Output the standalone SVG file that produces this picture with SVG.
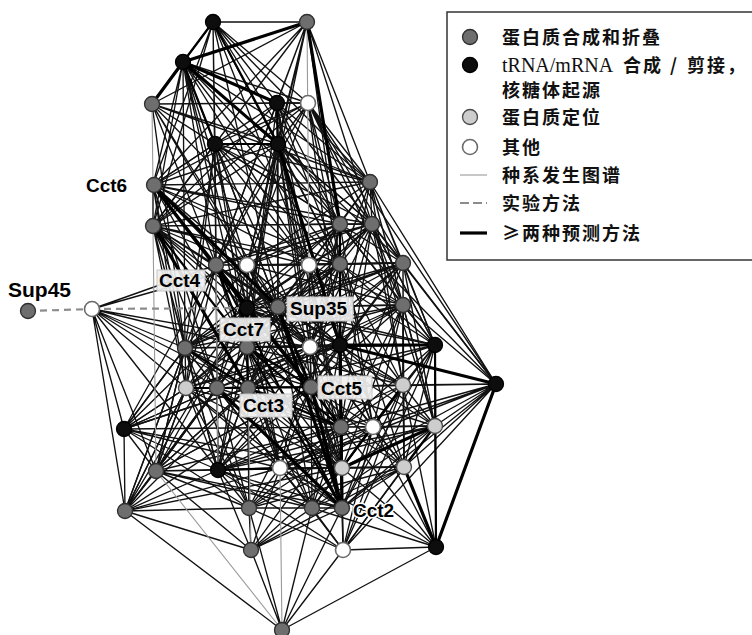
<svg xmlns="http://www.w3.org/2000/svg" width="752" height="635" viewBox="0 0 752 635">
<style>
.t{fill:none;stroke:#111;stroke-width:1.35}
.g{fill:none;stroke:#9a9a9a;stroke-width:1.1}
.m{fill:none;stroke:#000;stroke-width:2.2}
.k{fill:none;stroke:#000;stroke-width:3.2}
.d{fill:none;stroke:#8c8c8c;stroke-width:2.2;stroke-dasharray:7 5}
.ng circle{fill:#6e6e6e;stroke:#2e2e2e;stroke-width:1.3}
.nb circle{fill:#0d0d0d;stroke:#000;stroke-width:1.3}
.nl circle{fill:#cdcdcd;stroke:#4a4a4a;stroke-width:1.3}
.nw circle{fill:#fff;stroke:#6a6a6a;stroke-width:1.6}
.lb{font-family:"Liberation Sans",Arial,sans-serif;font-weight:bold;font-size:19px;fill:#000}
.hl{stroke:#fff;stroke-width:3px;paint-order:stroke;stroke-linejoin:round}
.bx{fill:#efefef;fill-opacity:0.92;stroke:#c4c4c4;stroke-width:1}
.lg{font-family:"Noto Sans CJK SC","Noto Sans",sans-serif;font-weight:bold;font-size:18px;letter-spacing:2px;fill:#111}
.lr{font-family:"Liberation Serif","Times New Roman",serif;font-weight:normal;font-size:20px;letter-spacing:0}
</style>
<rect width="752" height="635" fill="#fff"/>
<g id="connectors">
<path class="t" d="M213 22L307 22M213 22L152 104M213 22L277 103M213 22L308 103M213 22L215 144M213 22L153 185M213 22L370 182M213 22L153 226M213 22L340 224M213 22L216 265M213 22L309 265M213 22L340 264M213 22L278 307"/>
<path class="t" d="M307 22L277 103M307 22L215 144M307 22L278 144M307 22L152 104M307 22L153 185M307 22L370 182M307 22L153 226M307 22L372 224M307 22L216 265M307 22L247 265M307 22L340 264M307 22L247 308"/>
<path class="t" d="M183 62L308 103M183 62L153 185M183 62L370 182M183 62L153 226M183 62L340 224M183 62L372 224M183 62L216 265M183 62L247 265M183 62L309 265M183 62L340 264M183 62L247 308M183 62L278 307M183 62L185 348M183 62L247 347"/>
<path class="t" d="M152 104L277 103M152 104L308 103M152 104L215 144M152 104L278 144M152 104L370 182M152 104L340 224M152 104L216 265M152 104L247 265M152 104L309 265M152 104L278 307M152 104L185 348"/>
<path class="t" d="M277 103L308 103M277 103L215 144M277 103L153 185M277 103L153 226M277 103L370 182M277 103L340 224M277 103L372 224M277 103L216 265M277 103L309 265M277 103L340 264M277 103L403 263M277 103L278 307M277 103L247 347M277 103L310 347"/>
<path class="t" d="M308 103L215 144M308 103L278 144M308 103L153 185M308 103L370 182M308 103L153 226M308 103L340 224M308 103L372 224M308 103L216 265M308 103L247 265M308 103L340 264M308 103L403 263M308 103L403 305M308 103L435 345M308 103L496 384M308 103L340 345"/>
<path class="t" d="M215 144L153 185M215 144L153 226M215 144L370 182M215 144L340 224M215 144L372 224M215 144L216 265M215 144L309 265M215 144L340 264M215 144L247 308M215 144L278 307M215 144L185 348M215 144L247 347M215 144L310 347M215 144L186 388"/>
<path class="t" d="M278 144L153 185M278 144L370 182M278 144L153 226M278 144L340 224M278 144L372 224M278 144L216 265M278 144L247 265M278 144L309 265M278 144L340 264M278 144L403 263M278 144L247 308M278 144L278 307M278 144L403 305M278 144L247 347M278 144L310 347M278 144L341 427M278 144L311 387"/>
<path class="t" d="M153 185L370 182M153 185L153 226M153 185L340 224M153 185L372 224M153 185L247 265M153 185L309 265M153 185L340 264M153 185L185 348M153 185L247 347M153 185L310 347M153 185L340 345M153 185L186 388M153 185L217 388M153 185L341 427"/>
<path class="t" d="M370 182L153 226M370 182L340 224M370 182L372 224M370 182L247 265M370 182L309 265M370 182L340 264M370 182L403 263M370 182L403 305M370 182L310 347M370 182L340 345M370 182L435 345M370 182L496 384M370 182L435 426M370 182L403 385"/>
<path class="t" d="M153 226L340 224M153 226L372 224M153 226L216 265M153 226L247 265M153 226L309 265M153 226L340 264M153 226L247 308M153 226L278 307M153 226L185 348M153 226L310 347M153 226L340 345M153 226L186 388M153 226L217 388M153 226L311 387M153 226L218 470"/>
<path class="t" d="M340 224L372 224M340 224L216 265M340 224L247 265M340 224L309 265M340 224L403 263M340 224L247 308M340 224L278 307M340 224L403 305M340 224L185 348M340 224L247 347M340 224L310 347M340 224L435 345M340 224L496 384M340 224L248 388M340 224L311 387M340 224L341 427M340 224L373 427"/>
<path class="t" d="M372 224L216 265M372 224L247 265M372 224L309 265M372 224L340 264M372 224L403 263M372 224L247 308M372 224L278 307M372 224L403 305M372 224L247 347M372 224L310 347M372 224L340 345M372 224L435 345M372 224L496 384M372 224L403 385M372 224L435 426M372 224L341 427"/>
<path class="t" d="M216 265L247 265M216 265L309 265M216 265L340 264M216 265L403 263M216 265L278 307M216 265L185 348M216 265L310 347M216 265L340 345M216 265L186 388M216 265L217 388M216 265L341 427M216 265L218 470M216 265L280 468"/>
<path class="t" d="M247 265L309 265M247 265L340 264M247 265L403 263M247 265L247 308M247 265L278 307M247 265L403 305M247 265L185 348M247 265L247 347M247 265L310 347M247 265L340 345M247 265L217 388M247 265L248 388M247 265L311 387M247 265L341 427M247 265L280 468M247 265L342 468"/>
<path class="t" d="M309 265L340 264M309 265L403 263M309 265L247 308M309 265L278 307M309 265L403 305M309 265L185 348M309 265L247 347M309 265L310 347M309 265L340 345M309 265L435 345M309 265L217 388M309 265L248 388M309 265L311 387M309 265L403 385M309 265L341 427M309 265L373 427M309 265L342 468"/>
<path class="t" d="M340 264L403 263M340 264L247 308M340 264L278 307M340 264L403 305M340 264L185 348M340 264L247 347M340 264L310 347M340 264L435 345M340 264L186 388M340 264L248 388M340 264L311 387M340 264L403 385M340 264L341 427M340 264L373 427M340 264L342 468M340 264L404 467"/>
<path class="t" d="M403 263L247 308M403 263L278 307M403 263L403 305M403 263L185 348M403 263L247 347M403 263L310 347M403 263L340 345M403 263L435 345M403 263L496 384M403 263L248 388M403 263L311 387M403 263L403 385M403 263L341 427M403 263L435 426M403 263L404 467"/>
<path class="t" d="M247 308L278 307M247 308L403 305M247 308L185 348M247 308L310 347M247 308L340 345M247 308L435 345M247 308L186 388M247 308L217 388M247 308L403 385M247 308L124 429M247 308L341 427M247 308L156 471M247 308L218 470M247 308L280 468M247 308L342 468"/>
<path class="t" d="M278 307L403 305M278 307L185 348M278 307L247 347M278 307L310 347M278 307L340 345M278 307L435 345M278 307L186 388M278 307L217 388M278 307L248 388M278 307L403 385M278 307L373 427M278 307L218 470M278 307L342 468M278 307L312 508"/>
<path class="t" d="M403 305L185 348M403 305L247 347M403 305L310 347M403 305L340 345M403 305L435 345M403 305L496 384M403 305L248 388M403 305L311 387M403 305L403 385M403 305L341 427M403 305L373 427M403 305L435 426M403 305L404 467M403 305L342 468"/>
<path class="t" d="M185 348L247 347M185 348L310 347M185 348L340 345M185 348L186 388M185 348L217 388M185 348L311 387M185 348L124 429M185 348L341 427M185 348L156 471M185 348L218 470M185 348L280 468M185 348L125 511M185 348L249 508M185 348L342 468"/>
<path class="t" d="M247 347L310 347M247 347L340 345M247 347L435 345M247 347L186 388M247 347L217 388M247 347L403 385M247 347L156 471M247 347L218 470M247 347L280 468M247 347L342 468M247 347L249 508M247 347L312 508"/>
<path class="t" d="M310 347L340 345M310 347L435 345M310 347L186 388M310 347L217 388M310 347L248 388M310 347L311 387M310 347L403 385M310 347L341 427M310 347L373 427M310 347L435 426M310 347L218 470M310 347L280 468M310 347L342 468M310 347L404 467M310 347L342 508"/>
<path class="t" d="M340 345L186 388M340 345L217 388M340 345L248 388M340 345L311 387M340 345L403 385M340 345L373 427M340 345L435 426M340 345L218 470M340 345L404 467M340 345L312 508"/>
<path class="t" d="M435 345L248 388M435 345L311 387M435 345L403 385M435 345L341 427M435 345L373 427M435 345L435 426M435 345L342 468M435 345L404 467M435 345L342 508M435 345L343 550"/>
<path class="t" d="M496 384L403 385M496 384L373 427M496 384L435 426M496 384L342 468M496 384L404 467M496 384L342 508M496 384L343 550M496 384L311 387M496 384L341 427M496 384L280 468"/>
<path class="t" d="M186 388L217 388M186 388L311 387M186 388L124 429M186 388L341 427M186 388L156 471M186 388L218 470M186 388L280 468M186 388L342 468M186 388L125 511M186 388L249 508M186 388L342 508"/>
<path class="t" d="M217 388L248 388M217 388L124 429M217 388L341 427M217 388L156 471M217 388L218 470M217 388L280 468M217 388L342 468M217 388L125 511M217 388L249 508M217 388L312 508"/>
<path class="t" d="M248 388L124 429M248 388L373 427M248 388L156 471M248 388L218 470M248 388L280 468M248 388L342 468M248 388L249 508M248 388L312 508"/>
<path class="t" d="M311 387L403 385M311 387L373 427M311 387L435 426M311 387L156 471M311 387L218 470M311 387L280 468M311 387L342 468M311 387L404 467M311 387L249 508M311 387L312 508"/>
<path class="t" d="M403 385L341 427M403 385L373 427M403 385L435 426M403 385L218 470M403 385L280 468M403 385L404 467M403 385L312 508M403 385L342 508M403 385L343 550M403 385L436 547"/>
<path class="t" d="M124 429L341 427M124 429L156 471M124 429L218 470M124 429L280 468M124 429L125 511M124 429L249 508M124 429L342 468M124 429L216 265M124 429L185 348M124 429L186 388M124 429L217 388M124 429L248 388"/>
<path class="t" d="M341 427L373 427M341 427L435 426M341 427L156 471M341 427L218 470M341 427L280 468M341 427L404 467M341 427L249 508M341 427L312 508M341 427L251 550M341 427L343 550M341 427L436 547"/>
<path class="t" d="M373 427L435 426M373 427L218 470M373 427L280 468M373 427L342 468M373 427L404 467M373 427L249 508M373 427L312 508M373 427L342 508M373 427L343 550M373 427L436 547"/>
<path class="t" d="M435 426L218 470M435 426L280 468M435 426L404 467M435 426L312 508M435 426L342 508M435 426L343 550M435 426L436 547"/>
<path class="t" d="M156 471L218 470M156 471L280 468M156 471L342 468M156 471L125 511M156 471L249 508M156 471L312 508M156 471L342 508M156 471L251 550M156 471L185 348M156 471L247 347M156 471L186 388M156 471L217 388M156 471L248 388M156 471L311 387M156 471L278 307"/>
<path class="t" d="M218 470L404 467M218 470L125 511M218 470L249 508M218 470L312 508M218 470L342 508M218 470L251 550M218 470L343 550"/>
<path class="t" d="M280 468L342 468M280 468L404 467M280 468L125 511M280 468L249 508M280 468L312 508M280 468L342 508M280 468L251 550M280 468L343 550M280 468L436 547"/>
<path class="t" d="M342 468L404 467M342 468L125 511M342 468L249 508M342 468L312 508M342 468L251 550M342 468L343 550M342 468L436 547"/>
<path class="t" d="M404 467L249 508M404 467L312 508M404 467L342 508M404 467L251 550M404 467L343 550"/>
<path class="t" d="M125 511L249 508M125 511L251 550M125 511L282 630M125 511L185 348M125 511L247 347M125 511L186 388M125 511L217 388M125 511L248 388M125 511L311 387M125 511L247 308"/>
<path class="t" d="M249 508L312 508M249 508L342 508M249 508L251 550M249 508L343 550M249 508L282 630M312 508L342 508M312 508L251 550M312 508L343 550M312 508L436 547M312 508L282 630M342 508L251 550M342 508L343 550M342 508L282 630M251 550L282 630M343 550L436 547M343 550L282 630M436 547L282 630"/>
<path class="t" d="M92 309L216 265M92 309L247 265M92 309L185 348M92 309L247 347M92 309L186 388M92 309L217 388M92 309L248 388M92 309L124 429M92 309L156 471M92 309L218 470M92 309L125 511M92 309L310 347"/>
<path class="g" d="M307 22L309 265M156 471L282 630M280 468L282 630M153 226L156 471M152 104L153 185M248 388L251 550M216 265L218 470"/>
<path class="m" d="M213 22L183 62M213 22L278 144M183 62L215 144M277 103L278 144M215 144L278 144M435 345L436 547M218 470L280 468M153 185L216 265M216 265L247 347M216 265L311 387M247 347L248 388M247 347L311 387M247 347L341 427M248 388L311 387M248 388L341 427M311 387L341 427M278 307L311 387M247 308L247 347M340 224L340 264M340 224L340 345M340 264L340 345M340 345L341 427M341 427L342 508M340 345L342 468M341 427L342 468M342 468L342 508M403 385L342 468M435 426L404 467M185 348L248 388M186 388L248 388M217 388L311 387M153 226L247 347M216 265L342 508M247 347L342 508"/>
<path class="k" d="M307 22L183 62M183 62L152 104M183 62L277 103M183 62L278 144M307 22L340 224M153 185L278 307M153 185L247 308M153 226L248 388M278 307L342 508M340 345L342 508M311 387L342 508M217 388L342 508M340 345L435 345M340 345L496 384M496 384L436 547M404 467L436 547M342 468L435 426M247 308L311 387M278 144L340 345"/>
<path class="d" d="M28 311L92 309M92 309L247 308"/>
</g>
<g id="n1" class="nb"><circle cx="213" cy="22" r="7.5"/></g>
<g id="n2" class="ng"><circle cx="307" cy="22" r="7.5"/></g>
<g id="n3" class="nb"><circle cx="183" cy="62" r="7.5"/></g>
<g id="n4" class="ng"><circle cx="152" cy="104" r="7.5"/></g>
<g id="n5" class="nb"><circle cx="277" cy="103" r="7.5"/></g>
<g id="n6" class="nw"><circle cx="308" cy="103" r="7.5"/></g>
<g id="n7" class="nb"><circle cx="215" cy="144" r="7.5"/></g>
<g id="n8" class="nb"><circle cx="278" cy="144" r="7.5"/></g>
<g id="cct6" class="ng"><circle cx="154" cy="185" r="7.5"/><text class="lb" x="86" y="192">Cct6</text></g>
<g id="n10" class="ng"><circle cx="370" cy="182" r="7.5"/></g>
<g id="n11" class="ng"><circle cx="153" cy="226" r="7.5"/></g>
<g id="n12" class="ng"><circle cx="340" cy="224" r="7.5"/></g>
<g id="n13" class="ng"><circle cx="372" cy="224" r="7.5"/></g>
<g id="cct4" class="ng"><circle cx="216" cy="265" r="7.5"/><rect class="bx" x="157" y="270" width="48" height="21"/><text class="lb" x="159" y="287">Cct4</text></g>
<g id="n15" class="nw"><circle cx="247" cy="265" r="7.5"/></g>
<g id="n16" class="nw"><circle cx="309" cy="265" r="7.5"/></g>
<g id="n17" class="ng"><circle cx="340" cy="264" r="7.5"/></g>
<g id="n18" class="ng"><circle cx="403" cy="263" r="7.5"/></g>
<g id="n19" class="nb"><circle cx="247" cy="308" r="7.5"/></g>
<g id="sup35" class="ng"><circle cx="278" cy="307" r="7.5"/><rect class="bx" x="287" y="297" width="66" height="24"/><text class="lb" x="290" y="315">Sup35</text></g>
<g id="n21" class="ng"><circle cx="403" cy="305" r="7.5"/></g>
<g id="n22" class="ng"><circle cx="185" cy="348" r="7.5"/></g>
<g id="cct7" class="ng"><circle cx="247" cy="347" r="7.5"/><rect class="bx" x="220" y="318" width="50" height="23"/><text class="lb" x="223" y="336">Cct7</text></g>
<g id="n24" class="nw"><circle cx="310" cy="347" r="7.5"/></g>
<g id="n25" class="nb"><circle cx="340" cy="345" r="7.5"/></g>
<g id="n26" class="nb"><circle cx="435" cy="345" r="7.5"/></g>
<g id="n27" class="nb"><circle cx="496" cy="384" r="7.5"/></g>
<g id="n28" class="nl"><circle cx="186" cy="388" r="7.5"/></g>
<g id="n29" class="ng"><circle cx="217" cy="388" r="7.5"/></g>
<g id="cct3" class="ng"><circle cx="248" cy="388" r="7.5"/><rect class="bx" x="240" y="394" width="52" height="23"/><text class="lb" x="243" y="412">Cct3</text></g>
<g id="cct5" class="ng"><circle cx="311" cy="387" r="7.5"/><rect class="bx" x="318" y="376" width="54" height="23"/><text class="lb" x="321" y="395">Cct5</text></g>
<g id="n32" class="nl"><circle cx="403" cy="385" r="7.5"/></g>
<g id="n33" class="nb"><circle cx="124" cy="429" r="7.5"/></g>
<g id="n34" class="ng"><circle cx="341" cy="427" r="7.5"/></g>
<g id="n35" class="nw"><circle cx="373" cy="427" r="7.5"/></g>
<g id="n36" class="nl"><circle cx="435" cy="426" r="7.5"/></g>
<g id="n37" class="ng"><circle cx="156" cy="471" r="7.5"/></g>
<g id="n38" class="nb"><circle cx="218" cy="470" r="7.5"/></g>
<g id="n39" class="nw"><circle cx="280" cy="468" r="7.5"/></g>
<g id="n40" class="nl"><circle cx="342" cy="468" r="7.5"/></g>
<g id="n41" class="nl"><circle cx="404" cy="467" r="7.5"/></g>
<g id="n42" class="ng"><circle cx="125" cy="511" r="7.5"/></g>
<g id="n43" class="ng"><circle cx="249" cy="508" r="7.5"/></g>
<g id="n44" class="ng"><circle cx="312" cy="508" r="7.5"/></g>
<g id="cct2" class="ng"><circle cx="342" cy="508" r="7.5"/><text class="lb hl" x="353" y="517">Cct2</text></g>
<g id="n46" class="ng"><circle cx="251" cy="550" r="7.5"/></g>
<g id="n47" class="nw"><circle cx="343" cy="550" r="7.5"/></g>
<g id="n48" class="nb"><circle cx="436" cy="547" r="7.5"/></g>
<g id="n49" class="ng"><circle cx="282" cy="630" r="7.5"/></g>
<g id="n50" class="nw"><circle cx="92" cy="309" r="7.5"/></g>
<g id="sup45" class="ng"><circle cx="28" cy="311" r="7.5"/><text class="lb" x="8" y="297" style="font-size:21px">Sup45</text></g>
<g id="legend">
<rect x="447" y="12" width="308" height="248" fill="#fff" stroke="#333" stroke-width="1.5"/>
<g class="ng"><circle cx="470" cy="37" r="7.5"/></g>
<text class="lg" x="502" y="44">蛋白质合成和折叠</text>
<g class="nb"><circle cx="470" cy="65" r="7.5"/></g>
<text class="lg" x="502" y="72"><tspan class="lr">tRNA/mRNA</tspan><tspan x="623">合成</tspan><tspan x="670">/</tspan><tspan x="687">剪接，</tspan></text>
<text class="lg" x="502" y="97">核糖体起源</text>
<g class="nl"><circle cx="470" cy="117" r="7.5"/></g>
<text class="lg" x="502" y="124">蛋白质定位</text>
<g class="nw"><circle cx="470" cy="147" r="7.5"/></g>
<text class="lg" x="502" y="154">其他</text>
<line class="g" x1="460" y1="175" x2="487" y2="175"/>
<text class="lg" x="502" y="182">种系发生图谱</text>
<line class="d" x1="460" y1="203" x2="487" y2="203" style="stroke-dasharray:9 4"/>
<text class="lg" x="502" y="210">实验方法</text>
<line class="k" x1="460" y1="233" x2="487" y2="233"/>
<text class="lg" x="502" y="240">≥两种预测方法</text>
</g>
</svg>
